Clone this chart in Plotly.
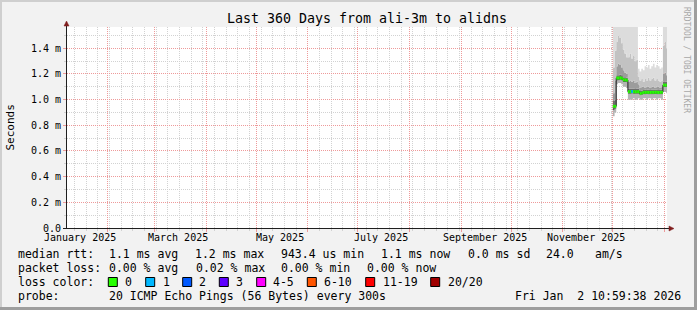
import plotly.graph_objects as go
import pandas as pd

# ---------------- data ----------------
graph_start = "2025-01-07 10:59:38"
graph_end = "2026-01-02 10:59:38"
day_dates = list(pd.date_range("2025-12-01", periods=33, freq="D"))

median_ms = [0.948, 0.948, 1.168, 1.168, 1.170, 1.166, 1.154, 1.154, 1.152,
             1.062, 1.062, 1.063, 1.062, 1.061, 1.062, 1.062, 1.048, 1.052,
             1.057, 1.057, 1.058, 1.057, 1.056, 1.057, 1.057, 1.058, 1.057,
             1.056, 1.057, 1.057, 1.113, 1.113, 1.113]
smoke_min_ms = [0.87, 0.90, 1.12, 1.13, 1.13, 1.12, 1.10, 1.10, 1.09,
                1.00, 1.00, 1.00, 1.01, 1.00, 1.00, 1.01, 1.00, 1.00,
                1.01, 1.01, 1.00, 1.01, 1.01, 1.00, 1.01, 1.01, 1.00,
                1.01, 1.01, 1.00, 1.06, 1.06, 1.05]
smoke_p25_ms = [0.92, 0.93, 1.150, 1.152, 1.155, 1.150, 1.138, 1.138, 1.136,
                1.045, 1.046, 1.047, 1.046, 1.045, 1.046, 1.046, 1.034, 1.038,
                1.043, 1.043, 1.044, 1.043, 1.042, 1.043, 1.043, 1.044, 1.043,
                1.042, 1.043, 1.043, 1.098, 1.098, 1.098]
smoke_p60_ms = [0.99, 1.00, 1.19, 1.19, 1.195, 1.19, 1.175, 1.175, 1.17,
                1.085, 1.085, 1.087, 1.085, 1.083, 1.085, 1.084, 1.068, 1.072,
                1.076, 1.077, 1.078, 1.077, 1.076, 1.077, 1.077, 1.078, 1.077,
                1.076, 1.077, 1.077, 1.14, 1.14, 1.14]
smoke_p75_ms = [1.05, 1.15, 1.26, 1.28, 1.27, 1.25, 1.23, 1.21, 1.20,
                1.14, 1.15, 1.14, 1.15, 1.13, 1.14, 1.12, 1.09, 1.10,
                1.10, 1.09, 1.10, 1.10, 1.09, 1.10, 1.10, 1.09, 1.10,
                1.10, 1.09, 1.10, 1.20, 1.21, 1.19]
smoke_p90_ms = [1.25, 1.38, 1.45, 1.50, 1.48, 1.44, 1.39, 1.36, 1.33,
                1.33, 1.36, 1.32, 1.34, 1.30, 1.31, 1.18, 1.15, 1.16,
                1.14, 1.16, 1.15, 1.17, 1.15, 1.16, 1.17, 1.15, 1.16,
                1.15, 1.14, 1.15, 1.42, 1.45, 1.40]
smoke_max_ms = [1.90, 1.90, 1.90, 1.90, 1.90, 1.90, 1.90, 1.90, 1.90,
                1.90, 1.90, 1.90, 1.90, 1.90, 1.90, 1.24, 1.22, 1.24,
                1.23, 1.26, 1.25, 1.27, 1.24, 1.26, 1.28, 1.25, 1.27,
                1.26, 1.24, 1.25, 1.90, 1.90, 1.90]
loss_count = [0] * 11 + [1] + [0] * 21

y_tick_vals_ms = [0.0, 0.2, 0.4, 0.6, 0.8, 1.0, 1.2, 1.4]
y_tick_text = ["0.0", "0.2 m", "0.4 m", "0.6 m", "0.8 m", "1.0 m", "1.2 m", "1.4 m"]
y_minor_vals_ms = [0.1, 0.3, 0.5, 0.7, 0.9, 1.1, 1.3, 1.5]
x_label_dates = ["2025-01-15", "2025-03-15", "2025-05-15", "2025-07-15",
                 "2025-09-15", "2025-11-15"]
x_label_text = ["January 2025", "March 2025", "May 2025", "July 2025",
                "September 2025", "November 2025"]

loss_legend = [("0", "#26ff00"), ("1", "#00b8ff"), ("2", "#0059ff"), ("3", "#5e00ff"),
               ("4-5", "#ff00ff"), ("6-10", "#ff5500"), ("11-19", "#ff0000"),
               ("20/20", "#a00000")]

title_text = "Last 360 Days from ali-3m to alidns"
rtt_tokens = ["median rtt:", "1.1 ms avg", "1.2 ms max", "943.4 us min",
              "1.1 ms now", "0.0 ms sd", "24.0", "am/s"]
loss_tokens = ["packet loss:", "0.00 % avg", "0.02 % max", "0.00 % min", "0.00 % now"]
probe_tokens = ["probe:", "20 ICMP Echo Pings (56 Bytes) every 300s",
                "Fri Jan  2 10:59:38 2026"]

# ---------------- layout geometry ----------------
W, H = 697, 310
ML, MR, MT, MB = 67, 30, 27, 82
PW, PH = W - ML - MR, H - MT - MB
def fx(p):
    return (p - ML) / PW
def fy(p):
    return (H - MB - p) / PH

FONT = "DejaVu Sans Mono"
GRID = "#d2d2d2"
MGRID = "#ee9a9a"
ARROW = "#801f1f"
AXIS = "#1f1f1f"
DASH = "1px,1px"

def sec(vals):
    return [v * 1e-3 for v in vals]

end_ts = pd.Timestamp(graph_end)
x_step = day_dates + [end_ts]
def step(vals):
    return sec(vals) + [vals[-1] * 1e-3]

fig = go.Figure()

bands = [
    (smoke_min_ms, None),
    (smoke_p25_ms, "#b4b4b4"),
    (median_ms, "#5a5a5a"),
    (smoke_p60_ms, "#6e6e6e"),
    (smoke_p75_ms, "#9c9c9c"),
    (smoke_p90_ms, "#c2c2c2"),
    (smoke_max_ms, "#dcdcdc"),
]
for vals, col in bands:
    fig.add_trace(go.Scatter(
        x=x_step, y=step(vals), mode="lines",
        line=dict(width=0, shape="hv"),
        fill="tonexty" if col else None,
        fillcolor=col, hoverinfo="skip", showlegend=False))

# black median line
fig.add_trace(go.Scatter(x=x_step, y=step(median_ms), mode="lines",
                         line=dict(width=1, shape="hv", color="#202020"),
                         hoverinfo="skip", showlegend=False))

# loss-coloured median segments
def loss_color(n):
    if n == 0:
        return loss_legend[0][1]
    if n <= 3:
        return loss_legend[n][1]
    if n <= 5:
        return loss_legend[4][1]
    if n <= 10:
        return loss_legend[5][1]
    if n <= 19:
        return loss_legend[6][1]
    return loss_legend[7][1]

groups = {}
for i, m in enumerate(median_ms):
    c = loss_color(loss_count[i])
    gx, gy = groups.setdefault(c, ([], []))
    gx += [x_step[i], x_step[i + 1], None]
    gy += [m * 1e-3, m * 1e-3, None]
for c, (gx, gy) in groups.items():
    fig.add_trace(go.Scatter(x=gx, y=gy, mode="lines",
                             line=dict(width=3, color=c),
                             hoverinfo="skip", showlegend=False))

annotations = []
def text_at(x, y, s, size=11.5, anchor="left", color="#000000", angle=0, xref="paper", yref="paper"):
    annotations.append(dict(x=x, y=y, xref=xref, yref=yref, text=s.replace(" ", "\u00a0"),
                            showarrow=False, xanchor=anchor, yanchor="middle",
                            textangle=angle,
                            font=dict(family=FONT, size=size, color=color)))

# month labels
for d, t in zip(x_label_dates, x_label_text):
    text_at(d, fy(237.5), t, size=10, anchor="center", xref="x")

# legend lines
rtt_x = [16, 107.3, 193.3, 279.3, 379.3, 465.7, 544, 593.3]
for x, t in zip(rtt_x, rtt_tokens):
    text_at(fx(x), fy(253.7), t)
loss_x = [16, 107.3, 194.3, 279.3, 365]
for x, t in zip(loss_x, loss_tokens):
    text_at(fx(x), fy(267.7), t)
text_at(fx(16), fy(281.7), "loss color:")
box_x = [108.3, 145.7, 182.7, 219.3, 256.7, 307.3, 365.7, 430.7]
lab_x = [123.3, 161, 197.3, 234.3, 270.7, 321.7, 380.7, 445.7]
shapes = []
for bx, lx, (lab, col) in zip(box_x, lab_x, loss_legend):
    shapes.append(dict(type="rect", xref="paper", yref="paper",
                       x0=fx(bx), x1=fx(bx + 9), y0=fy(286.5), y1=fy(277.5),
                       fillcolor=col, line=dict(color="#000000", width=1)))
    text_at(fx(lx), fy(281.7), lab)
probe_x = [16, 107.3, 513.3]
for x, t in zip(probe_x, probe_tokens):
    text_at(fx(x), fy(295.7), t)

# y title and watermark
text_at(fx(10), 0.5, "Seconds", size=11, anchor="center", angle=-90)
text_at(fx(687), fy(60), "RRDTOOL / TOBI OETIKER", size=8, anchor="center",
        color="#a8a8a8", angle=90)

# frame shading
shapes += [
    dict(type="rect", xref="paper", yref="paper", x0=fx(0), x1=fx(W), y0=fy(0), y1=fy(2),
         fillcolor="#cfcfcf", line=dict(width=0)),
    dict(type="rect", xref="paper", yref="paper", x0=fx(0), x1=fx(2), y0=fy(0), y1=fy(H),
         fillcolor="#cfcfcf", line=dict(width=0)),
    dict(type="rect", xref="paper", yref="paper", x0=fx(0), x1=fx(W), y0=fy(H - 3), y1=fy(H),
         fillcolor="#9e9e9e", line=dict(width=0)),
    dict(type="rect", xref="paper", yref="paper", x0=fx(W - 3), x1=fx(W), y0=fy(0), y1=fy(H),
         fillcolor="#9e9e9e", line=dict(width=0)),
    # axes
    dict(type="line", xref="paper", yref="paper", x0=fx(63), x1=fx(670), y0=fy(228.5), y1=fy(228.5),
         line=dict(color=AXIS, width=1)),
    dict(type="line", xref="paper", yref="paper", x0=fx(66.5), x1=fx(66.5), y0=fy(228.5), y1=fy(25),
         line=dict(color=AXIS, width=1)),
    dict(type="path", xref="paper", yref="paper",
         path=f"M {fx(669)},{fy(226)} L {fx(674)},{fy(228.5)} L {fx(669)},{fy(231)} Z",
         fillcolor=ARROW, line=dict(color=ARROW, width=0.5)),
    dict(type="path", xref="paper", yref="paper",
         path=f"M {fx(64)},{fy(26)} L {fx(66.5)},{fy(21)} L {fx(69)},{fy(26)} Z",
         fillcolor=ARROW, line=dict(color=ARROW, width=0.5)),
]

fig.update_layout(
    width=W, height=H,
    margin=dict(l=ML, r=MR, t=MT, b=MB, pad=0),
    paper_bgcolor="#f2f2f2", plot_bgcolor="#ffffff",
    showlegend=False,
    title=dict(text=title_text, x=0.5, xanchor="center", xref="paper",
               y=1 - 18.3 / H, yanchor="middle",
               font=dict(family=FONT, size=13.3, color="#000000")),
    annotations=annotations, shapes=shapes,
    xaxis=dict(type="date", range=[graph_start, graph_end],
               tickmode="linear", tick0="2025-01-01", dtick="M1",
               showticklabels=False, showgrid=True, gridcolor=MGRID, griddash=DASH,
               gridwidth=1, zeroline=False, showline=False,
               ticks="outside", ticklen=3, tickcolor=MGRID,
               minor=dict(tick0="2025-01-12", dtick=7 * 86400000, showgrid=True,
                          gridcolor=GRID, griddash=DASH, gridwidth=1,
                          ticks="outside", ticklen=2, tickcolor=GRID),
               fixedrange=True),
    yaxis=dict(range=[0, 1.566e-3], tickmode="array",
               tickvals=sec(y_tick_vals_ms), ticktext=y_tick_text,
               tickfont=dict(family=FONT, size=10, color="#000000"),
               showgrid=True, gridcolor=MGRID, griddash=DASH, gridwidth=1,
               zeroline=False, showline=False,
               ticks="outside", ticklen=3, tickcolor=MGRID,
               minor=dict(tickmode="array", tickvals=sec(y_minor_vals_ms), showgrid=True,
                          gridcolor=GRID, griddash=DASH, gridwidth=1,
                          ticks="outside", ticklen=2, tickcolor=GRID),
               fixedrange=True),
)

fig.write_html("out.html")
